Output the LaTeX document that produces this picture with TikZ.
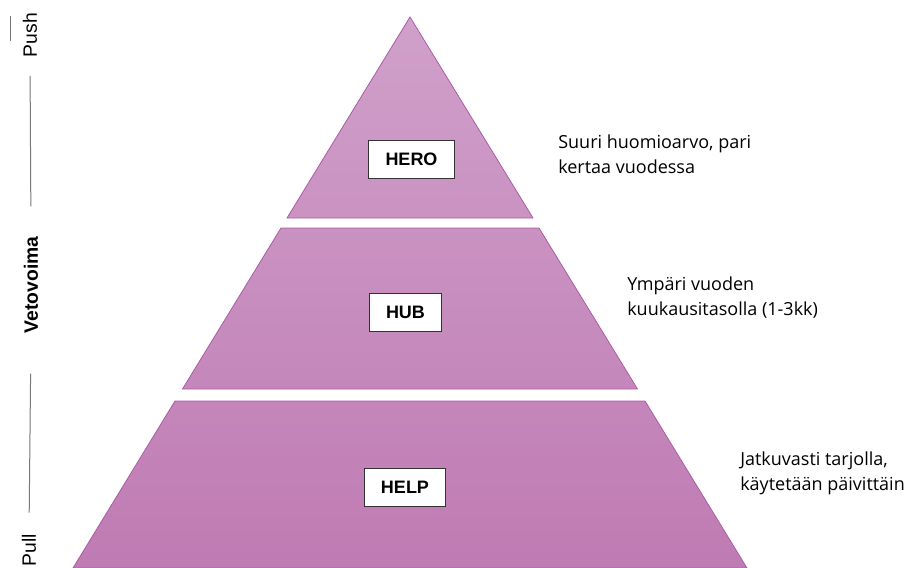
\documentclass[tikz,border=0pt]{standalone}
\usepackage{fontspec}
\setmainfont{Liberation Sans}
\newfontfamily\notefont{Open Sans}
\definecolor{pyrtop}{RGB}{208,160,202}
\definecolor{pyrbot}{RGB}{191,123,179}
\definecolor{pyredge}{RGB}{172,92,166}
\definecolor{axisgray}{RGB}{120,120,120}
\tikzset{
  levelbox/.style={draw=black!80, fill=white, line width=0.75pt,
    font=\bfseries\fontsize{13.5}{16}\selectfont, inner xsep=12.5pt, minimum height=28.5pt},
  note/.style={anchor=base west, align=left, inner sep=0pt,
    font=\notefont\fontsize{13.5}{18.75}\selectfont},
  axislabel/.style={rotate=90, inner sep=0pt, font=\fontsize{14.5}{17}\selectfont},
  axisline/.style={draw=axisgray, line width=0.75pt}
}
\begin{document}
\begin{tikzpicture}[x=0.75pt, y=-0.75pt]
  \useasboundingbox (0,0) rectangle (915,568);
  % pyramid: one shading over the three layers
  \begin{scope}
    \clip (410,17) -- (533,218) -- (287,218) -- cycle
          (281,228) -- (539,228) -- (637.5,389) -- (182.5,389) -- cycle
          (175,401) -- (645,401) -- (747,568) -- (73,568) -- cycle;
    \shade[top color=pyrtop, bottom color=pyrbot] (60,17) rectangle (760,568);
  \end{scope}
  \draw[pyredge, line width=0.6pt] (410,17) -- (533,218) -- (287,218) -- cycle;
  \draw[pyredge, line width=0.6pt] (281,228) -- (539,228) -- (637.5,389) -- (182.5,389) -- cycle;
  \draw[pyredge, line width=0.6pt] (175,401) -- (645,401) -- (747,568) -- (73,568) -- cycle;
  % level labels
  \node[levelbox] (hero) at (411.5,159) {HERO};
  \node[levelbox] (hub) at (405.5,312) {HUB};
  \node[levelbox] (help) at (405,487) {HELP};
  % notes on the right (base = last line)
  \node[note] (heronote) at (558,173) {Suuri huomioarvo, pari\\kertaa vuodessa};
  \node[note] (hubnote) at (627,315) {Ympäri vuoden\\kuukausitasolla (1-3kk)};
  \node[note] (helpnote) at (740,490) {Jatkuvasti tarjolla,\\käytetään päivittäin};
  % axis on the left
  \node[axislabel] (push) at (30,35) {Push};
  \node[axislabel, font=\bfseries\fontsize{14.5}{17}\selectfont] (veto) at (31,285) {Vetovoima};
  \node[axislabel] (pull) at (29,550) {Pull};
  \draw[axisline] (10,16) -- (10,41);
  \draw[axisline, shorten <=14pt, shorten >=22.5pt] (push.west) -- (veto.east);
  \draw[axisline, shorten <=30pt, shorten >=15.75pt] (veto.west) -- (pull.east);
\end{tikzpicture}
\end{document}
